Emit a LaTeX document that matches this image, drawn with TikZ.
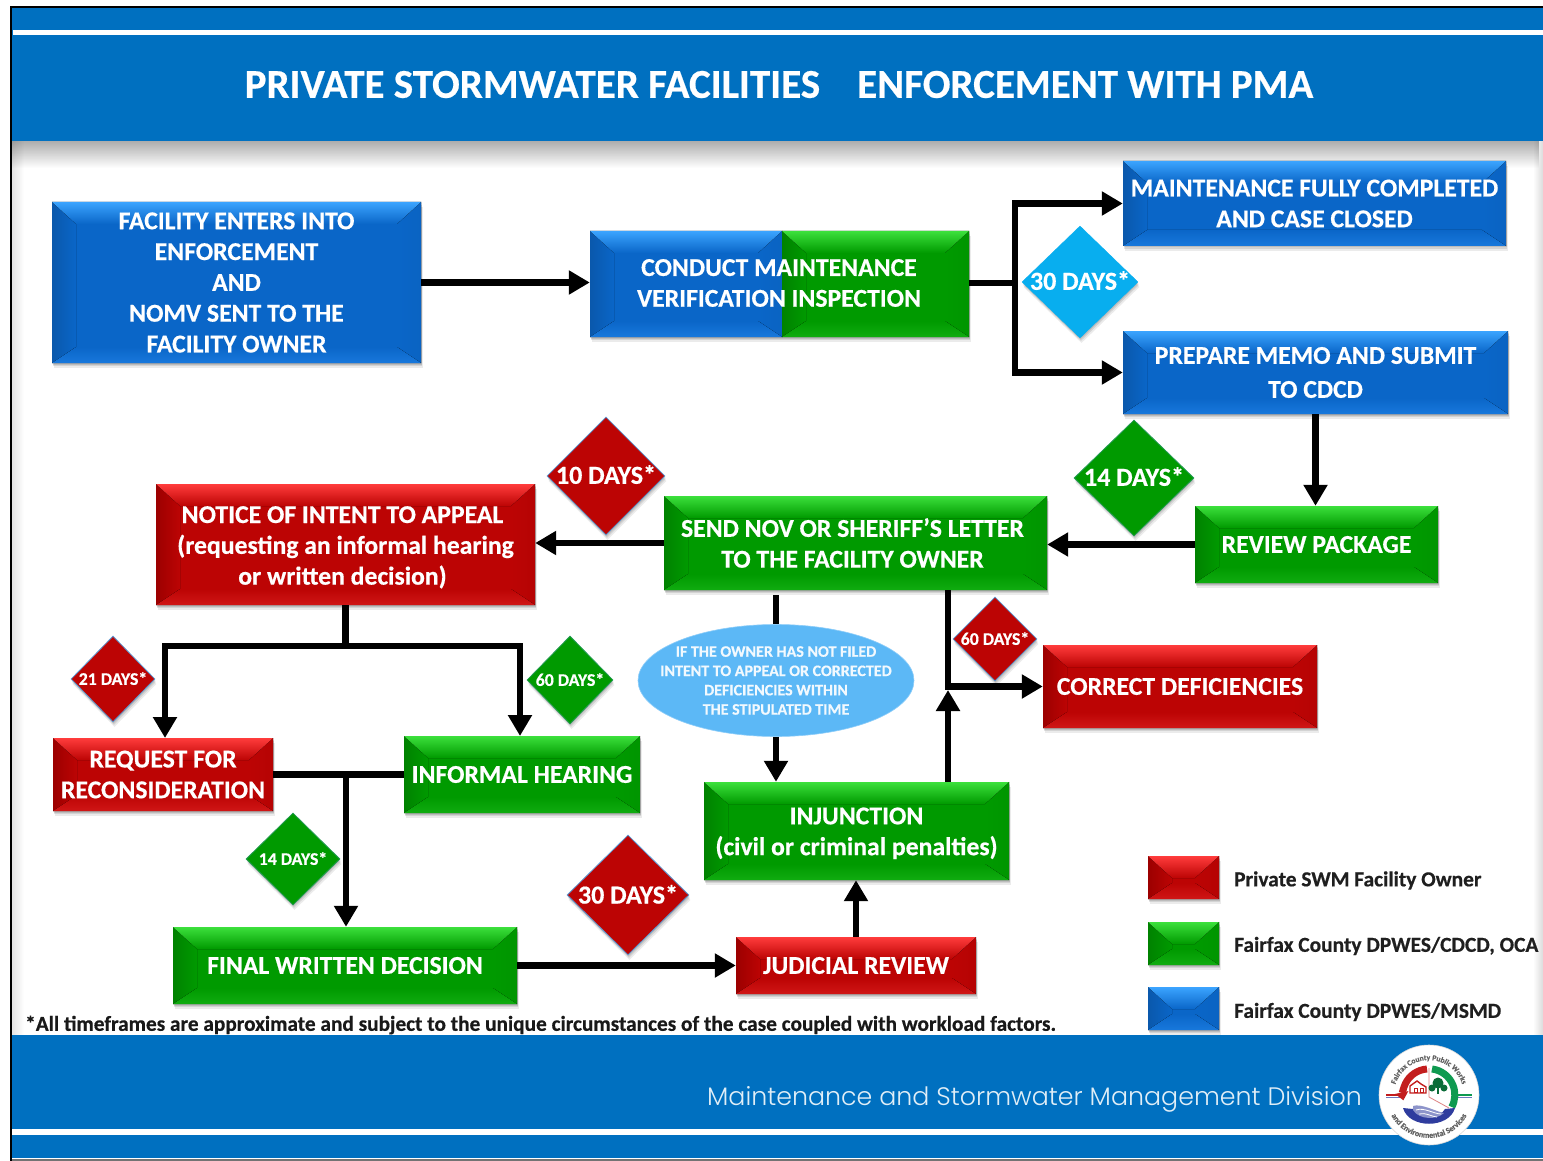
\documentclass[tikz,border=0pt]{standalone}
\usepackage{fontspec}
\setmainfont{Carlito}[BoldFeatures={FakeBold=0.5}]
\newfontfamily\footf{Poppins Light}
\usetikzlibrary{arrows.meta,shapes.geometric,shadows,decorations.text,fadings}
\definecolor{hdr}{HTML}{0070C0}
\definecolor{bbase}{HTML}{0A66C8}\definecolor{blight}{HTML}{3BA4FF}\definecolor{bside}{HTML}{0A58AC}\definecolor{bbot}{HTML}{1878DC}
\definecolor{gbase}{HTML}{009A00}\definecolor{glight}{HTML}{3CE03C}\definecolor{gside}{HTML}{008200}\definecolor{gbot}{HTML}{10AC10}
\definecolor{rbase}{HTML}{BC0404}\definecolor{rlight}{HTML}{FF3C3C}\definecolor{rside}{HTML}{9C0000}\definecolor{rbot}{HTML}{D01616}
\definecolor{rim}{HTML}{5B9BD5}
\definecolor{skyd}{HTML}{08AEEF}
\definecolor{ovalc}{HTML}{5CB8F6}
\definecolor{logog}{HTML}{0E9A50}
\definecolor{logob}{HTML}{2F3C9E}
\newcommand\tpush[1]{\rule{0pt}{#1pt}}
\newcommand\nudgeleft{\hspace*{6pt}}
\tikzset{
  softshadow/.style={
    general shadow={fill=black,opacity=.10,shadow xshift=.5pt,shadow yshift=-1.5pt},
    general shadow={fill=black,opacity=.10,shadow xshift=1pt,shadow yshift=-3pt},
    general shadow={fill=black,opacity=.08,shadow xshift=1.5pt,shadow yshift=-5pt}},
  bevel/.style n args={4}{rectangle,inner sep=0pt,softshadow,text=white,align=center,
    path picture={
      \coordinate (NW) at (path picture bounding box.north west);
      \coordinate (NE) at (path picture bounding box.north east);
      \coordinate (SW) at (path picture bounding box.south west);
      \coordinate (SE) at (path picture bounding box.south east);
      \fill[#1] (NW) rectangle (SE);
      \fill[left color=#3,right color=#1] (NW) -- ([xshift=24pt,yshift=-22pt]NW) -- ([xshift=24pt,yshift=16pt]SW) -- (SW) -- cycle;
      \fill[right color=#1!80!#3,left color=#1] (NE) -- ([xshift=-24pt,yshift=-22pt]NE) -- ([xshift=-24pt,yshift=16pt]SE) -- (SE) -- cycle;
      \fill[bottom color=#4,top color=#1] (SW) -- ([xshift=24pt,yshift=16pt]SW) -- ([xshift=-24pt,yshift=16pt]SE) -- (SE) -- cycle;
      \fill[top color=#2,bottom color=#1] (NW) -- (NE) -- ([xshift=-24pt,yshift=-22pt]NE) -- ([xshift=24pt,yshift=-22pt]NW) -- cycle;
    }},
  bluebox/.style={bevel={bbase}{blight}{bside}{bbot}},
  greenbox/.style={bevel={gbase}{glight}{gside}{gbot}},
  redbox/.style={bevel={rbase}{rlight}{rside}{rbot}},
  flag/.style={diamond,aspect=1,inner sep=0pt,text=white,font=\bfseries\fontsize{26}{28}\selectfont,softshadow},
  redflag/.style={flag,fill=rbase,draw=rim,line width=.8pt},
  greenflag/.style={flag,fill=gbase,draw=rim!40!gbase,line width=.8pt},
  skyflag/.style={flag,fill=skyd,draw=skyd},
  smallflag/.style={font=\bfseries\fontsize{17.8}{19}\selectfont},
  wire/.style={line width=6.5pt,black},
  arr/.style={wire,-{Triangle[length=21pt,width=23pt]}},
  boxtext/.style={font=\bfseries\fontsize{25.7}{30.8}\selectfont},
  legendtext/.style={anchor=west,inner sep=0pt,text=black!88,font=\bfseries\fontsize{21.4}{23}\selectfont},
}
\begin{document}
\begin{tikzpicture}[x=1pt,y=-1pt]
\useasboundingbox (0,0) rectangle (1543,1161);
% page frame
\fill[white] (0,0) rectangle (1543,1161);
\fill[black,opacity=.10,path fading=east] (12,141) rectangle (24,1035);
\fill[black,opacity=.14,path fading=west] (1533,141) rectangle (1543,1035);
\fill[black,opacity=.32,path fading=south] (12,141) rectangle (1543,168);
\fill[hdr] (12,8) rectangle (1543,141);
\fill[white] (13,30) rectangle (1543,35.5);
\fill[hdr] (12,1035) rectangle (1543,1158);
\fill[white] (12,1129) rectangle (1543,1134.5);
\fill[black!55] (12,1158.5) rectangle (1543,1161);
\draw[black,line width=1.6pt] (11,1161) -- (11,7) -- (1543,7);
\node[text=white,font=\bfseries\fontsize{41}{44}\selectfont,inner sep=0pt] (title) at (779,84.5) {PRIVATE STORMWATER FACILITIES\hspace{37pt}ENFORCEMENT WITH PMA};
\node[text=white!88!hdr,font=\footf\fontsize{25.3}{30}\selectfont,anchor=east,inner sep=0pt] (division) at (1362,1099) {Maintenance and Stormwater Management Division};

% boxes
\node[bluebox,boxtext,minimum width=369pt,minimum height=161pt] (fac) at (236.5,282.5) {FACILITY ENTERS INTO\\ENFORCEMENT\\AND\\NOMV SENT TO THE\\FACILITY OWNER};
\node[bluebox,minimum width=192pt,minimum height=106pt] (condl) at (686,284) {};
\node[greenbox,minimum width=187pt,minimum height=106pt] (condr) at (875.5,284) {};
\node[boxtext,text=white,align=center,inner sep=0pt] (cond) at (779,283) {CONDUCT MAINTENANCE\\VERIFICATION INSPECTION};
\node[bluebox,boxtext,minimum width=383pt,minimum height=85pt] (maint) at (1314.5,203.5) {MAINTENANCE FULLY COMPLETED\\AND CASE CLOSED};
\node[bluebox,minimum width=385pt,minimum height=83pt,font=\bfseries\fontsize{25.7}{34}\selectfont] (prep) at (1315.5,372.5) {PREPARE MEMO AND SUBMIT\\TO CDCD};
\node[greenbox,boxtext,minimum width=243pt,minimum height=77pt] (review) at (1316.5,544.5) {REVIEW PACKAGE};
\node[greenbox,boxtext,minimum width=383pt,minimum height=94pt] (send) at (855.5,543) {SEND NOV OR SHERIFF’S LETTER\nudgeleft\\TO THE FACILITY OWNER\nudgeleft};
\node[redbox,boxtext,minimum width=379pt,minimum height=121pt] (notice) at (345.5,544.5) {\tpush{22.5}NOTICE OF INTENT TO APPEAL\nudgeleft\\(requesting an informal hearing\nudgeleft\\or written decision)\nudgeleft};
\node[redbox,boxtext,minimum width=274pt,minimum height=83pt] (correct) at (1180,686.5) {CORRECT DEFICIENCIES};
\node[redbox,boxtext,minimum width=220pt,minimum height=73pt] (request) at (163,774.5) {REQUEST FOR\\RECONSIDERATION};
\node[greenbox,boxtext,minimum width=236pt,minimum height=77pt] (informal) at (522,774.5) {INFORMAL HEARING};
\node[greenbox,boxtext,minimum width=305pt,minimum height=98pt] (inj) at (856.5,831) {\tpush{21.5}INJUNCTION\\(civil or criminal penalties)};
\node[greenbox,boxtext,minimum width=344pt,minimum height=77pt] (final) at (345,965.5) {FINAL WRITTEN DECISION};
\node[redbox,boxtext,minimum width=240pt,minimum height=57pt] (judicial) at (856,965.5) {JUDICIAL REVIEW};
\node[ellipse,fill=ovalc,draw=ovalc!70!white,line width=.6pt,inner xsep=-20pt,inner ysep=0pt,minimum width=276pt,minimum height=112pt,text=white!92!ovalc,align=center,font=\bfseries\fontsize{16}{19.3}\selectfont] (oval) at (776,680.5) {IF THE OWNER HAS NOT FILED\\INTENT TO APPEAL OR CORRECTED\\DEFICIENCIES WITHIN\\THE STIPULATED TIME};

% helper points
\coordinate (trunk) at (1015,283);
\coordinate (nj) at (345.5,646);
\coordinate (reqtop) at (165,738);
\coordinate (inftop) at (520,736);
\coordinate (mid) at (346,774.5);
\coordinate (upto) at (948,690);
\coordinate (sendgap) at (776,595);

% connectors
\draw[arr] (fac.east) -- (fac.east -| condl.west);
\draw[wire] (condr.east |- trunk) -- (trunk);
\draw[arr] (trunk) |- (maint.west);
\draw[arr] (trunk) |- (prep.west);
\draw[arr] (prep.south) -- (prep.south |- review.north);
\draw[arr] (review.west) -- (review.west -| send.east);
\draw[arr] (send.west) -- (send.west -| notice.east);
\draw[wire] (notice.south) -- (nj);
\draw[arr] (nj) -| (reqtop);
\draw[arr] (nj) -| (inftop);
\draw[wire] (request.east) -- (informal.west);
\draw[arr] (mid) -- (mid |- final.north);
\draw[arr] (final.east) -- (final.east -| judicial.west);
\draw[arr] (judicial.north) -- (judicial.north |- inj.south);
\draw[wire] (sendgap) -- (sendgap |- oval.north);
\draw[arr] (oval.south) -- (oval.south |- inj.north);
\draw[arr] (upto |- inj.north) -- (upto);
\draw[arr] (upto |- send.south) |- (correct.west);

% timeframe flags
\node[skyflag,minimum width=116pt,minimum height=112pt] (d30a) at (1080,282) {\makebox[0pt]{\raisebox{3pt}{30 DAYS*}}};
\node[redflag,minimum width=118pt,minimum height=118pt] (d10) at (606,476) {\makebox[0pt]{\raisebox{3pt}{10 DAYS*}}};
\node[greenflag,minimum width=120pt,minimum height=116pt] (d14a) at (1134,478) {\makebox[0pt]{\raisebox{3pt}{14 DAYS*}}};
\node[redflag,smallflag,minimum width=84pt,minimum height=86pt] (d21) at (113,679) {\makebox[0pt]{\raisebox{1pt}{21 DAYS*}}};
\node[greenflag,smallflag,minimum width=86pt,minimum height=88pt] (d60a) at (570,680) {\makebox[0pt]{\raisebox{1pt}{60 DAYS*}}};
\node[redflag,smallflag,minimum width=84pt,minimum height=84pt] (d60b) at (995,639) {\makebox[0pt]{\raisebox{1pt}{60 DAYS*}}};
\node[greenflag,smallflag,minimum width=94pt,minimum height=92pt] (d14b) at (293,859) {\makebox[0pt]{\raisebox{1pt}{14 DAYS*}}};
\node[redflag,minimum width=122pt,minimum height=120pt] (d30b) at (628,895) {\makebox[0pt]{\raisebox{1.5pt}{30 DAYS*}}};

% footnote
\node[anchor=west,inner sep=0pt,text=black!90,font=\bfseries\fontsize{21.3}{23}\selectfont] (note) at (25,1025) {*All timeframes are approximate and subject to the unique circumstances of the case coupled with workload factors.};

% legend
\node[redbox,minimum width=71pt,minimum height=43pt] (lred) at (1183.5,877.5) {};
\node[greenbox,minimum width=71pt,minimum height=43pt] (lgreen) at (1183.5,943.5) {};
\node[bluebox,minimum width=71pt,minimum height=43pt] (lblue) at (1183.5,1008.5) {};
\node[legendtext] (tred) at (1234,880.5) {Private SWM Facility Owner};
\node[legendtext] (tgreen) at (1234,946) {Fairfax County DPWES/CDCD, OCA};
\node[legendtext] (tblue) at (1234,1012) {Fairfax County DPWES/MSMD};

% logo
\begin{scope}[shift={(1429,1095)},y=1pt]
  \fill[white,draw=black!15,line width=.6pt] (0,0) circle (50);
  \draw[rbase!90!white,line width=1.4pt] (-43,0) -- (-24,0);
  \draw[logog,line width=1.4pt] (24,0) -- (43,0);
  \draw[logob!70!white,line width=1pt] (-43,-2.5) -- (-24,-2.5) (24,-2.5) -- (43,-2.5);
  \draw[logog,line width=7pt] (3,26) arc (83:-28:26);
  \draw[rbase!50!white,line width=.8pt] (0,27) -- (0,-2) -- (20,-13);
  \draw[rbase!90!white,line width=7pt,-{Triangle[length=8pt,width=13pt]}] (-2,26) arc (94:192:26);
  % house
  \draw[rbase!90!white,line width=1.4pt,fill=white] (-19,2) -- (-19,9) -- (-12,14) -- (-8,11) -- (-3,8) -- (-3,2) -- cycle;
  \draw[rbase!90!white,line width=1pt] (-15,3) rectangle (-12,7) (-9,3) rectangle (-6,7);
  % trees
  \fill[logog!70!black] (9,12) circle (5.5) (3,7) circle (3.5) (15,7) circle (3.5);
  \fill[logog!70!black] (8,1) rectangle (10,10);
  % bowl
  \fill[logob] (-26,-13) .. controls (-20,-34) and (20,-34) .. (26,-13) -- (16,-14) .. controls (12,-23) and (-12,-23) .. (-16,-14) -- cycle;
  \fill[logob!55!white] (-16,-11) .. controls (-8,-8) and (8,-17) .. (15,-18) .. controls (8,-25) and (-10,-25) .. (-16,-15) -- cycle;
  \draw[white,line width=.8pt] (-13,-15) .. controls (-5,-12) and (5,-19) .. (12,-19) (-10,-19) .. controls (-3,-17) and (3,-22) .. (8,-22);
  \draw[draw=none,postaction={decorate},decoration={text along path,text align=center,text={|\fontsize{7.6}{8}\selectfont\bfseries\color{black!62}|Fairfax County Public Works}}] (-35,3) arc (175:5:35);
  \draw[draw=none,postaction={decorate},decoration={text along path,text align=center,text={|\fontsize{8}{9}\selectfont\bfseries\color{black!62}|and Environmental Services}}] (-41.5,-11) arc (195:345:43);
\end{scope}
\end{tikzpicture}
\end{document}
